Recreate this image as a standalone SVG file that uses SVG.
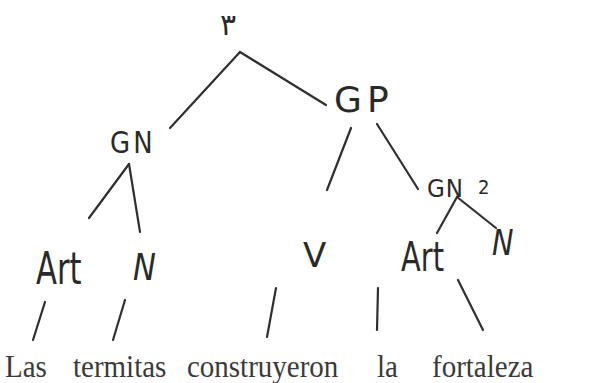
<svg xmlns="http://www.w3.org/2000/svg" width="591" height="383" viewBox="0 0 591 383">
<style>
.hw{font-family:"DejaVu Sans","Liberation Sans",sans-serif;fill:#2a2a2a;font-weight:normal}
.w{font-family:"Liberation Serif",serif;font-size:29px;fill:#3a3a3a}
.e{stroke:#2f2f2f;stroke-width:2.2;stroke-linecap:round;fill:none}
</style>
<rect width="591" height="383" fill="#fff"/>
<g id="edges">
<line class="e" x1="240" y1="52" x2="170" y2="128"/>
<line class="e" x1="240" y1="52" x2="326" y2="105"/>
<line class="e" x1="129" y1="164" x2="89" y2="218"/>
<line class="e" x1="129" y1="164" x2="140" y2="232"/>
<line class="e" x1="351" y1="128" x2="327" y2="190"/>
<line class="e" x1="377" y1="124" x2="418" y2="189"/>
<line class="e" x1="457" y1="197" x2="437" y2="233"/>
<line class="e" x1="457" y1="197" x2="496" y2="228"/>
<line class="e" x1="45" y1="302" x2="33" y2="340"/>
<line class="e" x1="125" y1="300" x2="113" y2="340"/>
<line class="e" x1="276" y1="288" x2="267" y2="337"/>
<line class="e" x1="378" y1="288" x2="377" y2="330"/>
<line class="e" x1="458" y1="280" x2="483" y2="330"/>
</g>
<g id="n-top"><text class="hw" x="220" y="35" font-size="30">٣</text></g>
<g id="n-gp"><text class="hw" x="334" y="112" font-size="36" letter-spacing="5">GP</text></g>
<g id="n-gn"><text class="hw" transform="translate(110,153) scale(1,1.15)" font-size="26" letter-spacing="3">GN</text></g>
<g id="n-art1"><text class="hw" transform="translate(36,284) scale(0.85,1.22)" font-size="36">Art</text></g>
<g id="n-n1"><text class="hw" transform="translate(133,280) scale(0.9,1.1)" font-size="34" font-style="italic">N</text></g>
<g id="n-v"><text class="hw" x="303" y="267" font-size="34">V</text></g>
<g id="n-gn2"><text class="hw" transform="translate(427,197) scale(1,1.1)" font-size="23" letter-spacing="1">GN<tspan font-size="18" dx="14" dy="-3">2</tspan></text></g>
<g id="n-art2"><text class="hw" transform="translate(401,271) scale(0.85,1.2)" font-size="34">Art</text></g>
<g id="n-n2"><text class="hw" transform="translate(492,255) scale(0.9,1.1)" font-size="32" font-weight="bold" font-style="italic">N</text></g>
<g id="words" transform="translate(0,377) scale(1,1.1)">
<text class="w" x="5" y="0">Las</text>
<text class="w" x="73" y="0">termitas</text>
<text class="w" x="187" y="0">construyeron</text>
<text class="w" x="377" y="0">la</text>
<text class="w" x="432" y="0">fortaleza</text>
</g>
</svg>
